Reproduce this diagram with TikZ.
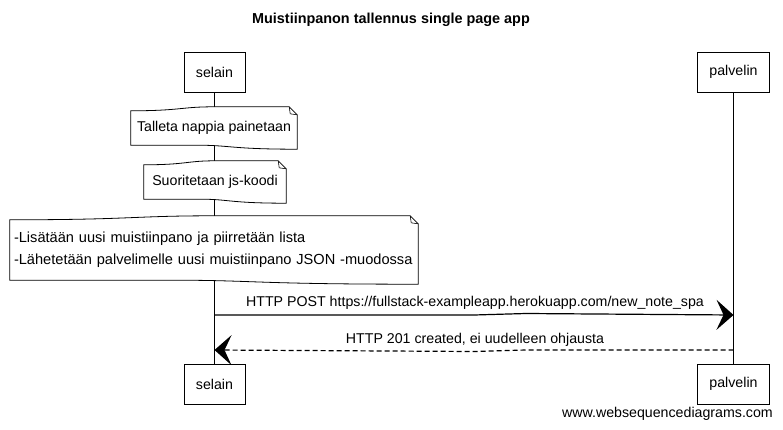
\documentclass[tikz,border=0pt]{standalone}
\usepackage{fontspec}
\setmainfont{Liberation Sans}
\usetikzlibrary{arrows.meta,calc,backgrounds}
\newcommand\drawnote[1]{%
  \draw[noteline]
    ($(#1.north west)+(0,-2)$)
      .. controls ($(#1.north west)!0.3!(#1.north east)+(0,-2)$) and ($(#1.north west)!0.3!(#1.north east)+(0,2)$)
      .. ($(#1.north west)!0.5!(#1.north east)+(0,2)$)
      -- ($(#1.north east)+(-8,2)$) -- ($(#1.north east)+(0,-6)$)
      -- ($(#1.south east)+(0,-2)$)
      .. controls ($(#1.south west)!0.6!(#1.south east)+(0,-2)$) and ($(#1.south west)!0.6!(#1.south east)+(0,2)$)
      .. ($(#1.south west)!0.4!(#1.south east)+(0,2)$)
      -- ($(#1.south west)+(0,2)$) -- cycle;
  \draw[line width=0.6pt] ($(#1.north east)+(-8,2)$) -- ($(#1.north east)+(-7,-5)$) -- ($(#1.north east)+(0,-6)$);
}
\begin{document}
\begin{tikzpicture}[x=1pt,y=1pt,
  actor/.style={draw,line width=0.8pt,fill=white,minimum height=40pt,
    font=\fontsize{14.2}{16}\selectfont,inner sep=0pt},
  notetext/.style={font=\fontsize{14.2}{22}\selectfont,inner xsep=4pt,inner ysep=0pt},
  noteline/.style={line width=0.8pt,fill=white},
  life/.style={line width=0.8pt},
  msg/.style={line width=1.2pt,-{Stealth[length=17pt,width=30pt,inset=7pt]}},
  lbl/.style={font=\fontsize{14.2}{16}\selectfont,inner sep=0pt}]
\useasboundingbox (0,0) rectangle (783,-430);
\node[font=\bfseries\fontsize{14.4}{16}\selectfont] (title) at (391,-20) {Muistiinpanon tallennus single page app};
\node[actor,minimum width=61pt] (selT) at (214.5,-72) {selain};
\node[actor,minimum width=72pt] (palT) at (733.5,-72) {palvelin};
\node[actor,minimum width=61pt] (selB) at (214.5,-384) {selain};
\node[actor,minimum width=72pt] (palB) at (733.5,-384) {palvelin};
\node[notetext,minimum width=166pt,minimum height=38pt] (n1) at (214,-128) {Talleta nappia painetaan};
\node[notetext,minimum width=142pt,minimum height=38pt] (n2) at (215,-182) {Suoritetaan js-koodi};
\node[notetext,text width=400pt,align=left,minimum height=64pt,font=\fontsize{14.6}{22}\selectfont] (n3) at (214,-250)
  {-Lisätään uusi muistiinpano ja piirretään lista\\-Lähetetään palvelimelle uusi muistiinpano JSON -muodossa};
\begin{scope}[on background layer]
  \fill[white] (0,0) rectangle (783,-430);
  \draw[life] (selT.south) -- (selB.north);
  \draw[life] (palT.south) -- (palB.north);
  \drawnote{n1}
  \drawnote{n2}
  \drawnote{n3}
\end{scope}
\coordinate (a1s) at (selT.south |- 0,-315);
\coordinate (a1e) at (palT.south |- 0,-315);
\coordinate (a2s) at (palT.south |- 0,-350);
\coordinate (a2e) at (selT.south |- 0,-350);
\draw[msg] (a1s) -- ($(a1s)!0.5!(a1e)+(0,0)$) .. controls ($(a1s)!0.55!(a1e)$) .. ($(a1s)!0.6!(a1e)+(0,1.5)$) -- (a1e);
\draw[msg,dash pattern=on 5pt off 3pt] (a2s) -- ($(a2s)!0.4!(a2e)$) .. controls ($(a2s)!0.45!(a2e)$) .. ($(a2s)!0.5!(a2e)+(0,-1.5)$) -- (a2e);
\node[lbl] (l1) at (475,-303) {HTTP POST https://fullstack-exampleapp.herokuapp.com/new\_note\_spa};
\node[lbl] (l2) at (475,-340) {HTTP 201 created, ei uudelleen ohjausta};
\node[font=\fontsize{14.2}{16}\selectfont,anchor=east,inner sep=0pt] (wsd) at (773,-414) {www.websequencediagrams.com};
\end{tikzpicture}
\end{document}
